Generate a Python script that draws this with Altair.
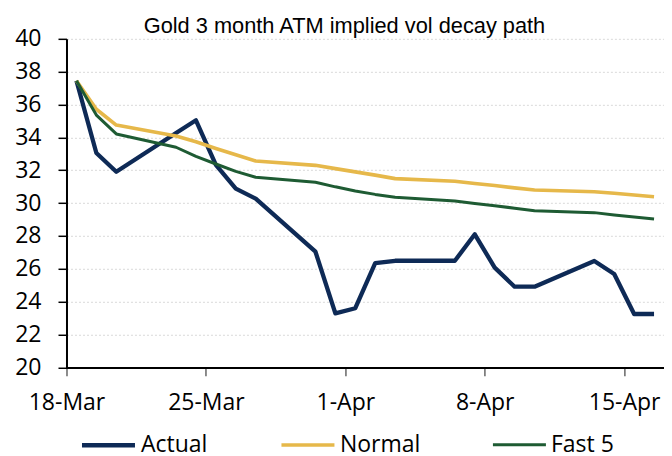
import altair as alt
import pandas as pd

# ---- data ----
dates = ["2020-03-18", "2020-03-19", "2020-03-20", "2020-03-23", "2020-03-24",
         "2020-03-25", "2020-03-26", "2020-03-27", "2020-03-30", "2020-03-31",
         "2020-04-01", "2020-04-02", "2020-04-03", "2020-04-06", "2020-04-07",
         "2020-04-08", "2020-04-09", "2020-04-10", "2020-04-13", "2020-04-14",
         "2020-04-15", "2020-04-16"]

actual = [37.45, 33.05, 31.91, 34.27, 35.04, 32.33, 30.88, 30.27, 27.04, 23.29,
          23.60, 26.34, 26.49, 26.49, 28.10, 26.07, 24.91, 24.91, 26.48, 25.68,
          23.25, 23.25]

normal = [37.45, 35.71, 34.75, 34.08, 33.73, 33.33, 32.94, 32.56, 32.30, 32.10,
          31.90, 31.70, 31.49, 31.33, 31.19, 31.07, 30.93, 30.80, 30.69, 30.60,
          30.49, 30.39]

fast5 = [37.45, 35.36, 34.21, 33.40, 32.85, 32.38, 31.93, 31.57, 31.27, 30.99,
         30.74, 30.53, 30.35, 30.13, 29.98, 29.84, 29.69, 29.54, 29.42, 29.28,
         29.15, 29.03]

series_names = ["Actual", "Normal", "Fast 5"]
series_colors = ["#0E2A56", "#E6B84A", "#1E5B33"]
series_widths = [4.3, 3.0, 3.0]

tick_dates = [(2020, 3, 18), (2020, 3, 25), (2020, 4, 1), (2020, 4, 8), (2020, 4, 15)]
x_start = (2020, 3, 18)
x_end = (2020, 4, 17)
y_ticks = [20, 22, 24, 26, 28, 30, 32, 34, 36, 38, 40]

title_text = "Gold 3 month ATM implied vol decay path"

# ---- table ----
rows = []
for name, vals in zip(series_names, [actual, normal, fast5]):
    for d, v in zip(dates, vals):
        rows.append({"date": d + "T12:00:00Z", "series": name, "value": v})
df = pd.DataFrame(rows)

FONT = "Open Sans"


def dt(t):
    return alt.DateTime(year=t[0], month=t[1], date=t[2], utc=True)


legend_common = dict(
    orient="none",
    legendX=13,
    legendY=377.5,
    direction="horizontal",
    title=None,
    symbolType="stroke",
    symbolSize=2809,
    labelFont=FONT,
    labelFontSize=23,
    labelColor="#000000",
    labelOffset=3.5,
    columnPadding=66,
    padding=0,
)

lines = (
    alt.Chart(df)
    .mark_line(strokeJoin="round", strokeCap="butt")
    .encode(
        x=alt.X(
            "date:T",
            scale=alt.Scale(type="utc", domain=[dt(x_start), dt(x_end)], nice=False),
            axis=alt.Axis(
                values=[dt(t) for t in tick_dates],
                format="%-d-%b",
                title=None,
                grid=False,
                domainColor="#000000",
                domainWidth=2,
                tickColor="#404040",
                tickSize=8.5,
                tickWidth=1.2,
                labelFont=FONT,
                labelFontSize=23,
                labelColor="#000000",
                labelPadding=16,
                labelFlush=False,
                labelOverlap=False,
            ),
        ),
        y=alt.Y(
            "value:Q",
            scale=alt.Scale(domain=[20, 40], nice=False, zero=False),
            axis=alt.Axis(
                values=y_ticks,
                title=None,
                grid=True,
                gridColor="#d9d9d9",
                gridDash=[2, 2],
                gridWidth=1,
                domainColor="#000000",
                domainWidth=2,
                tickColor="#000000",
                tickSize=8.5,
                tickWidth=1.5,
                labelFont=FONT,
                labelFontSize=23,
                labelColor="#000000",
                labelPadding=17,
                labelFlush=False,
                labelOverlap=False,
            ),
        ),
        color=alt.Color(
            "series:N",
            scale=alt.Scale(domain=series_names, range=series_colors),
            legend=alt.Legend(**legend_common),
        ),
        strokeWidth=alt.StrokeWidth(
            "series:N",
            scale=alt.Scale(domain=series_names, range=series_widths),
            legend=alt.Legend(**legend_common),
        ),
    )
)

title = (
    alt.Chart(pd.DataFrame({"t": [title_text]}))
    .mark_text(
        font="Liberation Sans",
        fontSize=21.8,
        color="#000000",
        align="center",
        baseline="alphabetic",
    )
    .encode(x=alt.value(278), y=alt.value(-6), text="t:N")
)

chart = (
    alt.layer(lines, title)
    .properties(
        width=597.6,
        height=328.6,
        autosize=alt.AutoSizeParams(type="none"),
        padding={"left": 58.5, "top": 30.8, "right": 0, "bottom": 100},
    )
    .configure_view(stroke=None)
)

chart.save("out.html", embed_options={"renderer": "svg", "actions": False})
